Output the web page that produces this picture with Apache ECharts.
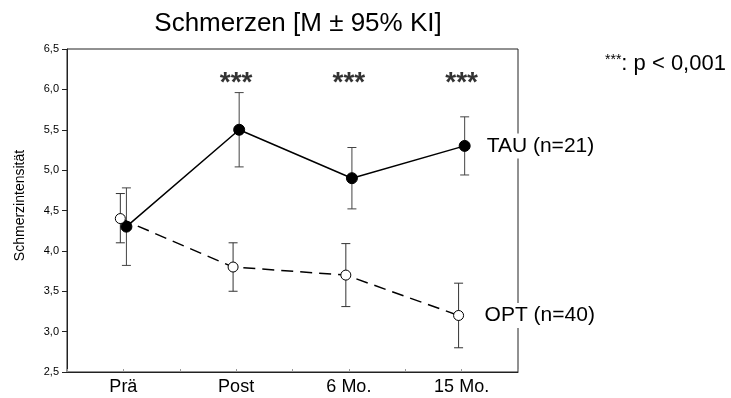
<!DOCTYPE html>
<html>
<head>
<meta charset="utf-8">
<title>Schmerzen</title>
<script src="https://cdn.jsdelivr.net/npm/echarts@6/dist/echarts.min.js"></script>
<style>
html,body{margin:0;padding:0;background:#fff;}
#chart{width:731px;height:398px;}
</style>
</head>
<body>
<div id="chart"></div>
<script>
// Zeitpunkte
var categories = ['Prä', 'Post', '6 Mo.', '15 Mo.'];
// TAU (n=21): Mittelwert, untere / obere KI-Grenze
var tauMean = [4.3, 5.5, 4.9, 5.3];
var tauLow = [3.82, 5.04, 4.52, 4.94];
var tauHigh = [4.78, 5.96, 5.28, 5.66];
// OPT (n=40)
var optMean = [4.4, 3.8, 3.7, 3.2];
var optLow = [4.1, 3.5, 3.31, 2.8];
var optHigh = [4.71, 4.1, 4.09, 3.6];
// Signifikanz-Sterne
var sigLabels = ['', '***', '***', '***'];
var sigLevel = 6.07;
var yTicks = [2.5, 3.0, 3.5, 4.0, 4.5, 5.0, 5.5, 6.0, 6.5];

var font = 'Liberation Sans, Arial, sans-serif';
var shift = 0.027; // leichte Verschiebung der Gruppen

function pts(mean, dx){
	return mean.map(function(v, i){ return [i + 1 + dx, v]; });
}
function bars(low, high, dx){
	return low.map(function(v, i){ return [i + 1 + dx, v, high[i]]; });
}
function errRender(color){
	return function(params, api){
		var x = api.value(0);
		var p1 = api.coord([x, api.value(1)]);
		var p2 = api.coord([x, api.value(2)]);
		var w = 4.5;
		var st = {stroke: color, lineWidth: 1};
		return {type: 'group', children: [
			{type: 'line', shape: {x1: p1[0], y1: p1[1], x2: p2[0], y2: p2[1]}, style: st},
			{type: 'line', shape: {x1: p1[0] - w, y1: p1[1], x2: p1[0] + w, y2: p1[1]}, style: st},
			{type: 'line', shape: {x1: p2[0] - w, y1: p2[1], x2: p2[0] + w, y2: p2[1]}, style: st}
		]};
	};
}

var myChart = echarts.init(document.getElementById('chart'));
var option = {
	animation: false,
	textStyle: {fontFamily: font},
	title: {
		text: 'Schmerzen [M ± 95% KI]',
		left: 293, top: 6, textAlign: 'center',
		textStyle: {fontSize: 26, fontWeight: 'normal', color: '#000', fontFamily: font}
	},
	grid: {left: 67, right: 213, top: 49, bottom: 26, show: true, borderColor: '#222', borderWidth: 1},
	xAxis: {
		type: 'value', min: 0.5, max: 4.5, interval: 0.5,
		axisLine: {show: true, lineStyle: {color: '#222'}},
		axisTick: {show: true, inside: true, length: 3, lineStyle: {color: '#999'}},
		splitLine: {show: false},
		axisLabel: {
			fontSize: 18, color: '#000', margin: 6,
			formatter: function(v){ return (v % 1 === 0) ? categories[v - 1] : ''; }
		}
	},
	yAxis: {
		type: 'value', min: yTicks[0], max: yTicks[yTicks.length - 1], interval: 0.5,
		name: 'Schmerzintensität', nameLocation: 'middle', nameGap: 40, nameRotate: 90,
		nameTextStyle: {fontSize: 14, color: '#000', padding: [0, 0, 0, 10]},
		axisLine: {show: true, lineStyle: {color: '#222'}},
		axisTick: {show: true, length: 5, lineStyle: {color: '#222'}},
		splitLine: {show: false},
		axisLabel: {
			fontSize: 11, color: '#000', margin: 8,
			formatter: function(v){ return v.toFixed(1).replace('.', ','); }
		}
	},
	graphic: [{
		type: 'text', left: 605, top: 53,
		style: {
			text: '{s|***}{n|: p < 0,001}',
			rich: {
				s: {fontSize: 14, fontFamily: font, fill: '#000', verticalAlign: 'top'},
				n: {fontSize: 22, fontFamily: font, fill: '#000'}
			}
		}
	}],
	series: [
		{
			type: 'custom', renderItem: errRender('#444'),
			data: bars(tauLow, tauHigh, shift), encode: {x: 0, y: [1, 2]}, z: 2
		},
		{
			type: 'custom', renderItem: errRender('#333'),
			data: bars(optLow, optHigh, -shift), encode: {x: 0, y: [1, 2]}, z: 2
		},
		{
			name: 'TAU', type: 'line', data: pts(tauMean, shift), z: 4,
			symbol: 'circle', symbolSize: 11,
			itemStyle: {color: '#000', borderColor: '#000'},
			lineStyle: {color: '#000', width: 1.5},
			endLabel: {
				show: true, formatter: 'TAU (n=21)', fontSize: 21, color: '#000',
				distance: 20, backgroundColor: '#fff', padding: [2, 2]
			}
		},
		{
			name: 'OPT', type: 'line', data: pts(optMean, -shift), z: 5,
			symbol: 'circle', symbolSize: 10,
			itemStyle: {color: '#fff', borderColor: '#000', borderWidth: 1},
			lineStyle: {color: '#000', width: 1.5, type: [12, 7]},
			endLabel: {
				show: true, formatter: 'OPT (n=40)', fontSize: 21, color: '#000',
				distance: 24, backgroundColor: '#fff', padding: [2, 2]
			}
		},
		{
			type: 'scatter', symbolSize: 0, z: 6,
			data: sigLabels.map(function(s, i){ return {value: [i + 1, sigLevel], label: {formatter: s}}; }),
			label: {show: true, position: 'inside', fontSize: 28, fontWeight: 'bold', color: '#000'}
		}
	]
};
myChart.setOption(option);
</script>
</body>
</html>
